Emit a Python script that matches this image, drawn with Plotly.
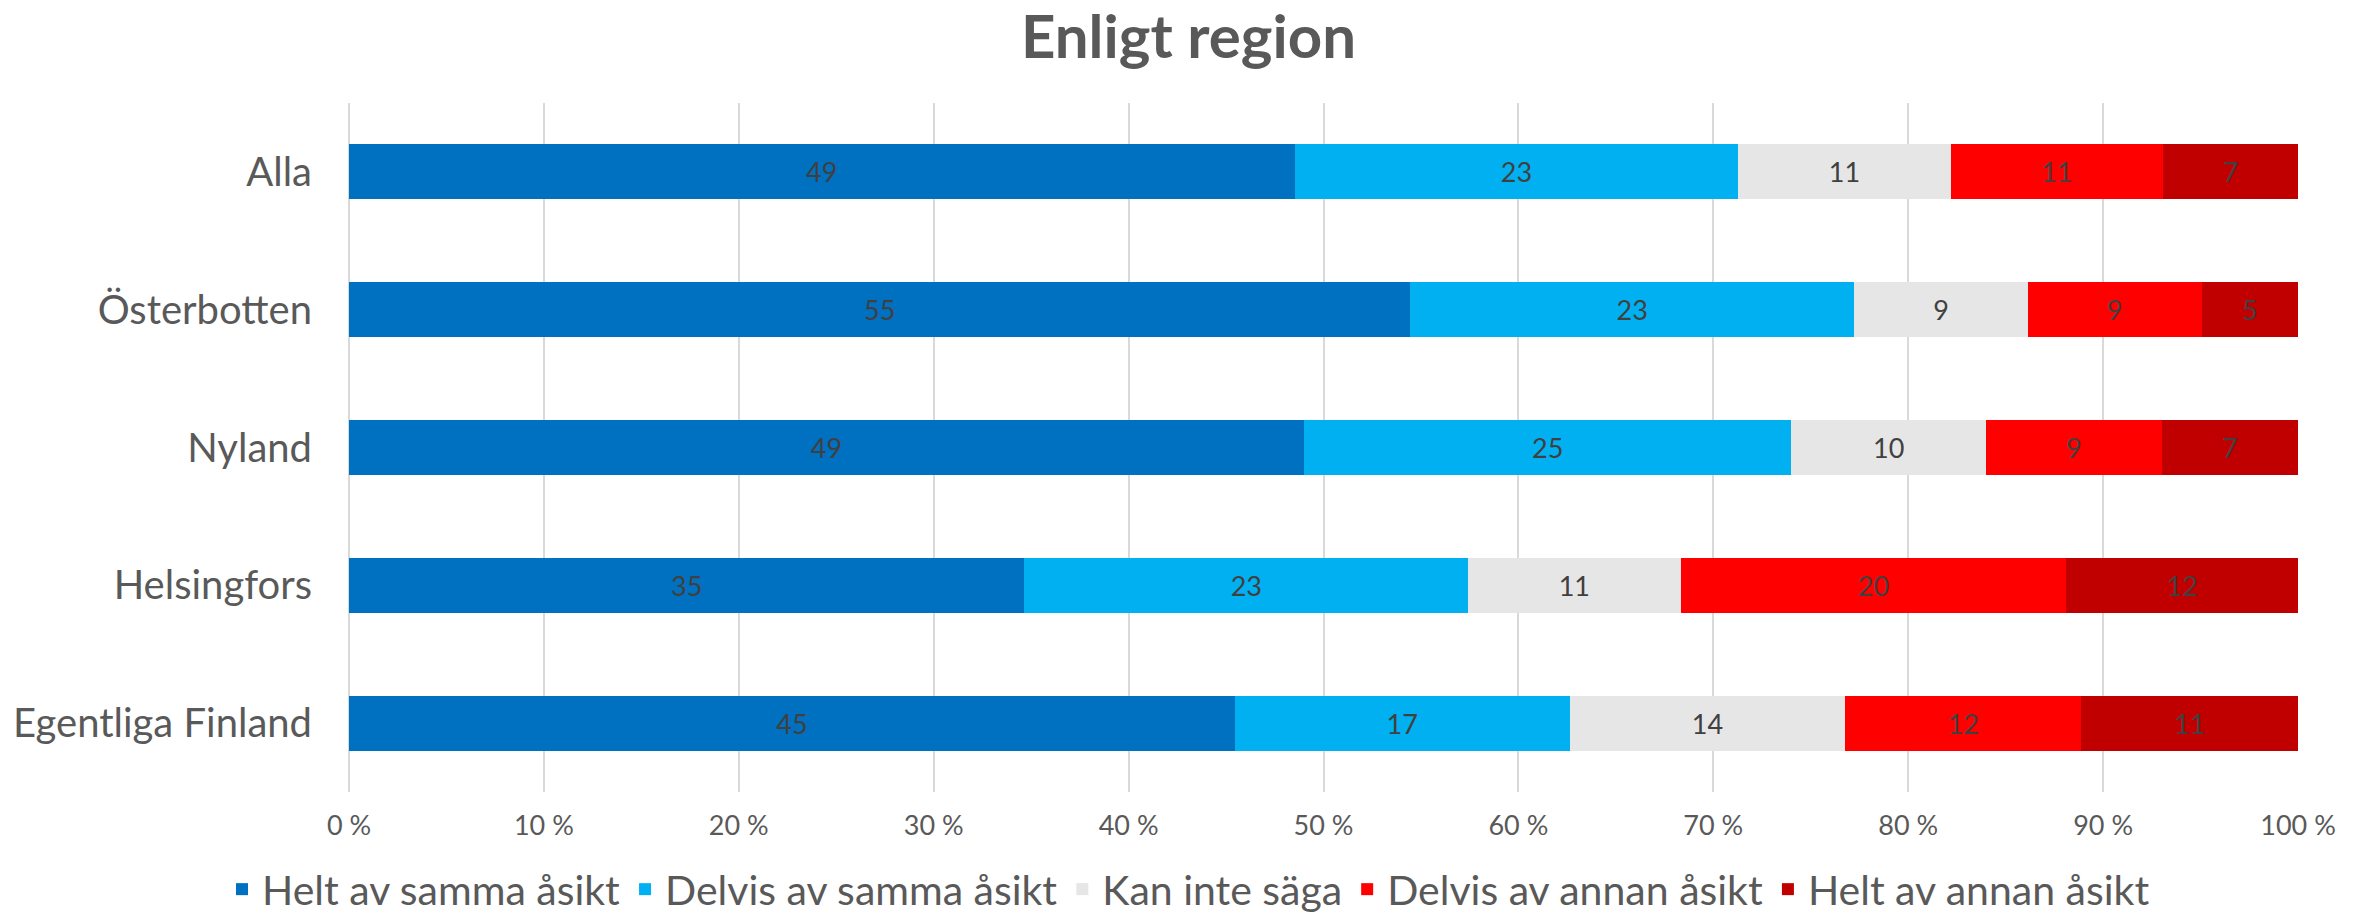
import plotly.graph_objects as go

# regions, top to bottom
regions = ['Alla', 'Österbotten', 'Nyland', 'Helsingfors', 'Egentliga Finland']

answers = ['Helt av samma åsikt', 'Delvis av samma åsikt', 'Kan inte säga',
           'Delvis av annan åsikt', 'Helt av annan åsikt']

helt_samma = [49, 55, 49, 35, 45]
delvis_samma = [23, 23, 25, 23, 17]
kan_inte = [11, 9, 10, 11, 14]
delvis_annan = [11, 9, 9, 20, 12]
helt_annan = [7, 5, 7, 12, 11]

colors = ['#0070C0', '#00B0F0', '#E6E6E6', '#FF0000', '#C00000']

FONT = 'Lato, Open Sans, sans-serif'

# the page body has an 8px margin, so the figure is a bit smaller
W, H = 2361, 915

fig = go.Figure()
for name, vals, col in zip(answers,
                           [helt_samma, delvis_samma, kan_inte, delvis_annan, helt_annan],
                           colors):
    fig.add_trace(go.Bar(
        y=regions,
        x=vals,
        name=name,
        orientation='h',
        marker=dict(color=col, line=dict(width=0)),
        text=vals,
        textposition='inside',
        insidetextanchor='middle',
        textangle=0,
        textfont=dict(color='#404040', size=27, family=FONT),
    ))

fig.update_layout(
    barmode='stack',
    barnorm='percent',
    bargap=0.6,
    width=W,
    height=H,
    margin=dict(l=341, r=71, t=95, b=131, autoexpand=False),
    paper_bgcolor='white',
    plot_bgcolor='white',
    font=dict(family=FONT, color='#595959'),
    title=dict(
        text='<b>Enligt region</b>',
        x=0.5, xanchor='center',
        y=1 - 29 / H, yanchor='middle',
        font=dict(size=60, color='#595959', family=FONT),
    ),
    legend=dict(
        orientation='h',
        xref='container', yref='container',
        x=0.5, xanchor='center',
        y=0, yanchor='bottom',
        font=dict(size=41, color='#595959'),
        traceorder='normal',
        itemwidth=30,
    ),
    uniformtext=dict(mode='show', minsize=10),
)

fig.update_xaxes(
    range=[0, 100],
    dtick=10,
    ticksuffix=' %',
    showgrid=True,
    gridcolor='#D9D9D9',
    gridwidth=1.5,
    zeroline=True,
    zerolinecolor='#D9D9D9',
    zerolinewidth=1.5,
    ticks='outside',
    ticklen=10,
    tickcolor='white',
    tickfont=dict(size=27, color='#595959'),
    fixedrange=True,
)

fig.update_yaxes(
    autorange='reversed',
    showgrid=False,
    ticks='',
    ticklabelstandoff=36,
    tickfont=dict(size=40, color='#595959'),
)

fig.write_html("out.html")
